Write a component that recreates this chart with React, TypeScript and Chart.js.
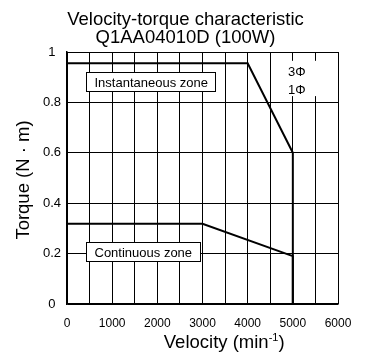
import React, { useEffect, useRef } from "react";
import { Chart, registerables } from "chart.js";

Chart.register(...registerables);

// ---- data ----
const TITLE_LINES = ["Velocity-torque characteristic", "Q1AA04010D (100W)"];
const X_TITLE = "Velocity (min";
const X_TITLE_SUP = "-1";
const X_TITLE_END = ")";
const Y_TITLE = "Torque (N · m)";

const INST_VELOCITY = [0, 4000, 5000, 5000];
const INST_TORQUE = [0.955, 0.955, 0.6, 0];
const CONT_VELOCITY = [0, 3000, 5000, 5000];
const CONT_TORQUE = [0.318, 0.318, 0.19, 0];

const X_MIN = 0;
const X_MAX = 6000;
const X_STEP = 500;
const X_LABEL_STEP = 1000;
const Y_MIN = 0;
const Y_MAX = 1;
const Y_STEP = 0.2;

const ZONE_TEXTS = ["Instantaneous zone", "Continuous zone"];
const ZONE_LEFT_X = [420, 425];
const ZONE_CENTER_Y = [0.882, 0.21];

const PHASE_TEXTS = ["3Φ", "1Φ"];
const PHASE_X = 5090;
const PHASE_Y = [0.922, 0.852];

const FONT = "'Liberation Sans', Arial, Helvetica, sans-serif";

const toPoints = (xs: number[], ys: number[]) => xs.map((x, i) => ({ x, y: ys[i] }));

const annotationPlugin = {
  id: "annotationPlugin",
  afterDraw(chart: any) {
    const { ctx, chartArea, scales } = chart;
    const xs = scales.x;
    const ys = scales.y;
    ctx.save();

    // phase labels background (hides grid lines)
    const bx1 = xs.getPixelForValue(4700);
    const bx2 = xs.getPixelForValue(5620);
    const by1 = ys.getPixelForValue(0.965);
    const by2 = ys.getPixelForValue(0.825);
    ctx.fillStyle = "#fff";
    ctx.fillRect(bx1, by1, bx2 - bx1, by2 - by1);

    ctx.fillStyle = "#000";
    ctx.font = `13px ${FONT}`;
    ctx.textAlign = "center";
    ctx.textBaseline = "middle";
    PHASE_TEXTS.forEach((t, i) => {
      ctx.fillText(t, xs.getPixelForValue(PHASE_X), ys.getPixelForValue(PHASE_Y[i]) + 1);
    });

    // zone label boxes
    ZONE_TEXTS.forEach((t, i) => {
      ctx.font = `13px ${FONT}`;
      const w = ctx.measureText(t).width + 16;
      const h = 19;
      const left = Math.round(xs.getPixelForValue(ZONE_LEFT_X[i])) + 0.5;
      const cy = ys.getPixelForValue(ZONE_CENTER_Y[i]);
      const top = Math.round(cy - h / 2) + 0.5;
      ctx.fillStyle = "#fff";
      ctx.fillRect(left, top, w, h);
      ctx.strokeStyle = "#000";
      ctx.lineWidth = 1;
      ctx.strokeRect(left, top, Math.round(w), h);
      ctx.fillStyle = "#000";
      ctx.textAlign = "left";
      ctx.textBaseline = "middle";
      ctx.fillText(t, left + 8, top + h / 2 + 1);
    });

    // main title
    ctx.fillStyle = "#000";
    ctx.font = `18.5px ${FONT}`;
    ctx.textAlign = "center";
    ctx.textBaseline = "alphabetic";
    const tcx = chart.width / 2 + 2;
    ctx.fillText(TITLE_LINES[0], tcx, 24.5);
    ctx.fillText(TITLE_LINES[1], tcx, 42.5);

    // x title with superscript
    ctx.font = `18.5px ${FONT}`;
    const w1 = ctx.measureText(X_TITLE).width;
    const w3 = ctx.measureText(X_TITLE_END).width;
    ctx.font = `11px ${FONT}`;
    const w2 = ctx.measureText(X_TITLE_SUP).width;
    const xcx = chartArea.left + (chartArea.right - chartArea.left) * 0.58;
    const start = xcx - (w1 + w2 + w3) / 2;
    const base = chartArea.bottom + 44;
    ctx.textAlign = "left";
    ctx.font = `18.5px ${FONT}`;
    ctx.fillText(X_TITLE, start, base);
    ctx.font = `11px ${FONT}`;
    ctx.fillText(X_TITLE_SUP, start + w1, base - 7);
    ctx.font = `18.5px ${FONT}`;
    ctx.fillText(X_TITLE_END, start + w1 + w2, base);

    // y title
    ctx.save();
    ctx.translate(24, (chartArea.top + chartArea.bottom) / 2 + 2);
    ctx.rotate(-Math.PI / 2);
    ctx.textAlign = "center";
    ctx.textBaseline = "middle";
    ctx.font = `18.5px ${FONT}`;
    ctx.fillText(Y_TITLE, 0, 0);
    ctx.restore();

    ctx.restore();
  },
};

export default function App() {
  const canvasRef = useRef<HTMLCanvasElement | null>(null);

  useEffect(() => {
    if (!canvasRef.current) return;
    const chart = new Chart(canvasRef.current, {
      type: "scatter",
      data: {
        datasets: [
          {
            label: "Instantaneous",
            data: toPoints(INST_VELOCITY, INST_TORQUE),
            showLine: true,
            borderColor: "#000",
            borderWidth: 2,
            pointRadius: 0,
            fill: false,
          },
          {
            label: "Continuous",
            data: toPoints(CONT_VELOCITY, CONT_TORQUE),
            showLine: true,
            borderColor: "#000",
            borderWidth: 2,
            pointRadius: 0,
            fill: false,
          },
        ],
      },
      options: {
        animation: false,
        responsive: false,
        devicePixelRatio: 1,
        layout: { padding: { top: 52, right: 29, left: 0, bottom: 0 } },
        plugins: {
          legend: { display: false },
          tooltip: { enabled: false },
          title: { display: false },
        },
        scales: {
          x: {
            type: "linear",
            min: X_MIN,
            max: X_MAX,
            ticks: {
              stepSize: X_STEP,
              autoSkip: false,
              maxRotation: 0,
              color: "#000",
              padding: 12,
              font: { family: FONT, size: 12 },
              callback: (v: any) => (Number(v) % X_LABEL_STEP === 0 ? String(v) : ""),
            },
            grid: { color: "#000", lineWidth: 1, drawTicks: false },
            border: { color: "#000", width: 1.5 },
            afterFit: (s: any) => {
              s.height = 52;
            },
          },
          y: {
            type: "linear",
            min: Y_MIN,
            max: Y_MAX,
            ticks: {
              stepSize: Y_STEP,
              color: "#000",
              padding: 6,
              crossAlign: "center",
              font: { family: FONT, size: 13 },
              callback: (v: any) => String(Number(Number(v).toFixed(1))),
            },
            grid: { color: "#000", lineWidth: 1, drawTicks: false },
            border: { color: "#000", width: 1.5 },
            afterFit: (s: any) => {
              s.width = 67;
            },
          },
        },
      },
      plugins: [annotationPlugin],
    });
    return () => chart.destroy();
  }, []);

  return (
    <div style={{ position: "absolute", left: 0, top: 0, width: 367, height: 356, background: "#fff" }}>
      <canvas ref={canvasRef} width={367} height={356} style={{ display: "block" }} />
    </div>
  );
}
